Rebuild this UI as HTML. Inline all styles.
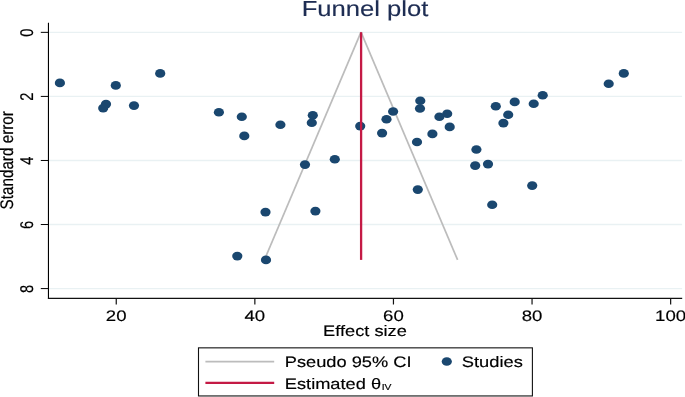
<!DOCTYPE html>
<html><head><meta charset="utf-8"><title>Funnel plot</title>
<style>html,body{margin:0;padding:0;background:#fff}svg{display:block;will-change:transform}text{font-family:"Liberation Sans",Arial,sans-serif;text-rendering:geometricPrecision}</style></head><body>
<svg width="685" height="397" viewBox="0 0 685 397">
<rect width="685" height="397" fill="#fff"/>
<line x1="49.00" y1="32.35" x2="682.10" y2="32.35" stroke="#e9f1f3" stroke-width="1.4"/>
<line x1="49.00" y1="96.41" x2="682.10" y2="96.41" stroke="#e9f1f3" stroke-width="1.4"/>
<line x1="49.00" y1="160.47" x2="682.10" y2="160.47" stroke="#e9f1f3" stroke-width="1.4"/>
<line x1="49.00" y1="224.53" x2="682.10" y2="224.53" stroke="#e9f1f3" stroke-width="1.4"/>
<line x1="49.00" y1="288.59" x2="682.10" y2="288.59" stroke="#e9f1f3" stroke-width="1.4"/>
<line x1="361.00" y1="32.20" x2="264.40" y2="259.90" stroke="#bcbcbc" stroke-width="1.7"/>
<line x1="361.00" y1="32.20" x2="457.60" y2="259.90" stroke="#bcbcbc" stroke-width="1.7"/>
<ellipse cx="59.90" cy="82.90" rx="5.1" ry="4.3" fill="#1a476f"/>
<ellipse cx="115.80" cy="85.40" rx="5.1" ry="4.3" fill="#1a476f"/>
<ellipse cx="160.20" cy="73.40" rx="5.1" ry="4.3" fill="#1a476f"/>
<ellipse cx="106.00" cy="104.10" rx="5.1" ry="4.3" fill="#1a476f"/>
<ellipse cx="103.20" cy="108.10" rx="5.1" ry="4.3" fill="#1a476f"/>
<ellipse cx="134.00" cy="105.60" rx="5.1" ry="4.3" fill="#1a476f"/>
<ellipse cx="218.90" cy="112.20" rx="5.1" ry="4.3" fill="#1a476f"/>
<ellipse cx="241.80" cy="116.80" rx="5.1" ry="4.3" fill="#1a476f"/>
<ellipse cx="244.30" cy="135.90" rx="5.1" ry="4.3" fill="#1a476f"/>
<ellipse cx="280.40" cy="124.80" rx="5.1" ry="4.3" fill="#1a476f"/>
<ellipse cx="312.80" cy="115.30" rx="5.1" ry="4.3" fill="#1a476f"/>
<ellipse cx="311.80" cy="122.80" rx="5.1" ry="4.3" fill="#1a476f"/>
<ellipse cx="360.20" cy="126.10" rx="5.1" ry="4.3" fill="#1a476f"/>
<ellipse cx="305.00" cy="164.60" rx="5.1" ry="4.3" fill="#1a476f"/>
<ellipse cx="334.80" cy="159.30" rx="5.1" ry="4.3" fill="#1a476f"/>
<ellipse cx="386.50" cy="119.30" rx="5.1" ry="4.3" fill="#1a476f"/>
<ellipse cx="393.10" cy="111.50" rx="5.1" ry="4.3" fill="#1a476f"/>
<ellipse cx="382.10" cy="133.10" rx="5.1" ry="4.3" fill="#1a476f"/>
<ellipse cx="420.30" cy="100.70" rx="5.1" ry="4.3" fill="#1a476f"/>
<ellipse cx="420.00" cy="108.50" rx="5.1" ry="4.3" fill="#1a476f"/>
<ellipse cx="417.00" cy="142.00" rx="5.1" ry="4.3" fill="#1a476f"/>
<ellipse cx="432.40" cy="133.90" rx="5.1" ry="4.3" fill="#1a476f"/>
<ellipse cx="439.40" cy="116.80" rx="5.1" ry="4.3" fill="#1a476f"/>
<ellipse cx="447.20" cy="113.80" rx="5.1" ry="4.3" fill="#1a476f"/>
<ellipse cx="449.70" cy="126.90" rx="5.1" ry="4.3" fill="#1a476f"/>
<ellipse cx="476.40" cy="149.50" rx="5.1" ry="4.3" fill="#1a476f"/>
<ellipse cx="475.20" cy="165.60" rx="5.1" ry="4.3" fill="#1a476f"/>
<ellipse cx="488.00" cy="164.10" rx="5.1" ry="4.3" fill="#1a476f"/>
<ellipse cx="495.80" cy="106.20" rx="5.1" ry="4.3" fill="#1a476f"/>
<ellipse cx="508.20" cy="114.80" rx="5.1" ry="4.3" fill="#1a476f"/>
<ellipse cx="503.40" cy="123.10" rx="5.1" ry="4.3" fill="#1a476f"/>
<ellipse cx="514.70" cy="101.90" rx="5.1" ry="4.3" fill="#1a476f"/>
<ellipse cx="533.70" cy="103.70" rx="5.1" ry="4.3" fill="#1a476f"/>
<ellipse cx="542.70" cy="95.30" rx="5.1" ry="4.3" fill="#1a476f"/>
<ellipse cx="608.70" cy="83.80" rx="5.1" ry="4.3" fill="#1a476f"/>
<ellipse cx="623.80" cy="73.40" rx="5.1" ry="4.3" fill="#1a476f"/>
<ellipse cx="265.50" cy="212.10" rx="5.1" ry="4.3" fill="#1a476f"/>
<ellipse cx="315.40" cy="211.10" rx="5.1" ry="4.3" fill="#1a476f"/>
<ellipse cx="237.30" cy="256.10" rx="5.1" ry="4.3" fill="#1a476f"/>
<ellipse cx="266.00" cy="259.90" rx="5.1" ry="4.3" fill="#1a476f"/>
<ellipse cx="417.80" cy="189.60" rx="5.1" ry="4.3" fill="#1a476f"/>
<ellipse cx="492.20" cy="204.80" rx="5.1" ry="4.3" fill="#1a476f"/>
<ellipse cx="532.20" cy="185.60" rx="5.1" ry="4.3" fill="#1a476f"/>
<line x1="361.10" y1="32.20" x2="361.10" y2="259.90" stroke="#c41a45" stroke-width="2.3"/>
<line x1="48.45" y1="22.80" x2="48.45" y2="298.70" stroke="#000" stroke-width="1.1"/>
<line x1="47.90" y1="298.37" x2="682.20" y2="298.37" stroke="#111" stroke-width="1.25"/>
<line x1="40.80" y1="32.35" x2="48.40" y2="32.35" stroke="#000" stroke-width="1"/>
<text transform="translate(33.40,32.65) scale(1.25,1) rotate(-90)" text-anchor="middle" font-size="14.7" fill="#000" stroke="#000" stroke-width="0.16">0</text>
<line x1="40.80" y1="96.41" x2="48.40" y2="96.41" stroke="#000" stroke-width="1"/>
<text transform="translate(33.40,96.71) scale(1.25,1) rotate(-90)" text-anchor="middle" font-size="14.7" fill="#000" stroke="#000" stroke-width="0.16">2</text>
<line x1="40.80" y1="160.47" x2="48.40" y2="160.47" stroke="#000" stroke-width="1"/>
<text transform="translate(33.40,160.77) scale(1.25,1) rotate(-90)" text-anchor="middle" font-size="14.7" fill="#000" stroke="#000" stroke-width="0.16">4</text>
<line x1="40.80" y1="224.53" x2="48.40" y2="224.53" stroke="#000" stroke-width="1"/>
<text transform="translate(33.40,224.83) scale(1.25,1) rotate(-90)" text-anchor="middle" font-size="14.7" fill="#000" stroke="#000" stroke-width="0.16">6</text>
<line x1="40.80" y1="288.59" x2="48.40" y2="288.59" stroke="#000" stroke-width="1"/>
<text transform="translate(33.40,288.89) scale(1.25,1) rotate(-90)" text-anchor="middle" font-size="14.7" fill="#000" stroke="#000" stroke-width="0.16">8</text>
<text transform="translate(13.45,160.30) scale(1.19,1) rotate(-90)" text-anchor="middle" font-size="15.25" fill="#000" stroke="#000" stroke-width="0.16">Standard error</text>
<line x1="116.25" y1="298.20" x2="116.25" y2="304.50" stroke="#111" stroke-width="1.2"/>
<text transform="translate(116.20,320.50) scale(1.225,1)" text-anchor="middle" font-size="15.2" fill="#000" stroke="#000" stroke-width="0.16">20</text>
<line x1="254.85" y1="298.20" x2="254.85" y2="304.50" stroke="#111" stroke-width="1.2"/>
<text transform="translate(254.80,320.50) scale(1.225,1)" text-anchor="middle" font-size="15.2" fill="#000" stroke="#000" stroke-width="0.16">40</text>
<line x1="393.45" y1="298.20" x2="393.45" y2="304.50" stroke="#111" stroke-width="1.2"/>
<text transform="translate(393.40,320.50) scale(1.225,1)" text-anchor="middle" font-size="15.2" fill="#000" stroke="#000" stroke-width="0.16">60</text>
<line x1="532.05" y1="298.20" x2="532.05" y2="304.50" stroke="#111" stroke-width="1.2"/>
<text transform="translate(532.00,320.50) scale(1.225,1)" text-anchor="middle" font-size="15.2" fill="#000" stroke="#000" stroke-width="0.16">80</text>
<line x1="670.65" y1="298.20" x2="670.65" y2="304.50" stroke="#111" stroke-width="1.2"/>
<text transform="translate(670.60,320.50) scale(1.225,1)" text-anchor="middle" font-size="15.2" fill="#000" stroke="#000" stroke-width="0.16">100</text>
<text transform="translate(364.95,335.80) scale(1.2,1)" text-anchor="middle" font-size="15.2" fill="#000" stroke="#000" stroke-width="0.16">Effect size</text>
<text transform="translate(365.00,15.75) scale(1.175,1)" text-anchor="middle" font-size="21.8" fill="#1e2d53" stroke="#1e2d53" stroke-width="0.16">Funnel plot</text>
<rect x="198.5" y="347.85" width="333.90" height="48.10" fill="#fff" stroke="#111" stroke-width="1.1"/>
<line x1="205.40" y1="361.60" x2="274.20" y2="361.60" stroke="#bcbcbc" stroke-width="1.7"/>
<line x1="205.40" y1="382.80" x2="274.20" y2="382.80" stroke="#c41a45" stroke-width="2.2"/>
<text transform="translate(284.80,367.40) scale(1.2,1)" text-anchor="start" font-size="15.2" fill="#000" stroke="#000" stroke-width="0.16">Pseudo 95% CI</text>
<text transform="translate(284.80,388.50) scale(1.2,1)" text-anchor="start" font-size="15.2" fill="#000" stroke="#000" stroke-width="0.16">Estimated θ<tspan font-size="8.6" dx="0.5" dy="1.1">IV</tspan></text>
<ellipse cx="446.8" cy="361.5" rx="5.1" ry="4.3" fill="#1a476f"/>
<text transform="translate(461.80,367.40) scale(1.205,1)" text-anchor="start" font-size="15.2" fill="#000" stroke="#000" stroke-width="0.16">Studies</text>
</svg></body></html>
